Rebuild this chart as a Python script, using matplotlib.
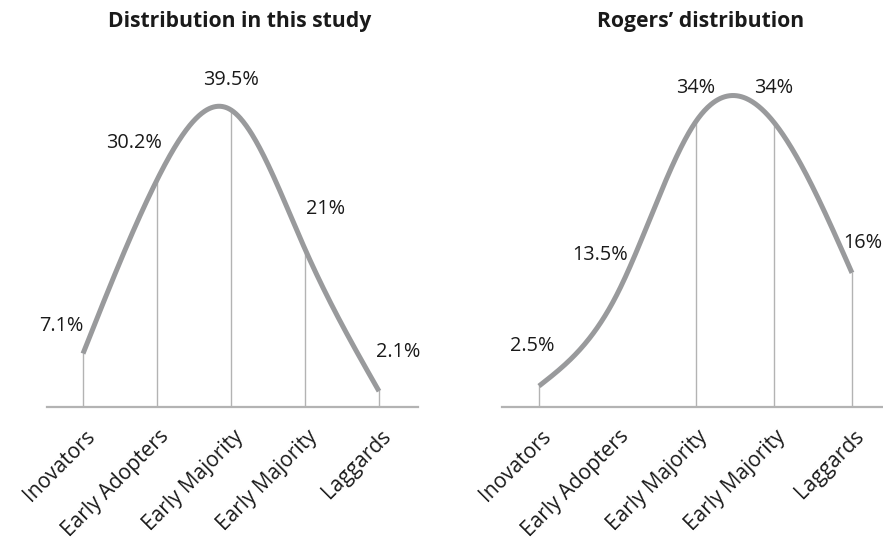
import numpy as np
import matplotlib
matplotlib.use("Agg")
import matplotlib.pyplot as plt
from matplotlib.transforms import ScaledTranslation

categories = ["Inovators", "Early Adopters", "Early Majority", "Early Majority", "Laggards"]
study_values = [7.1, 30.2, 39.5, 21, 2.1]
study_labels = ["7.1%", "30.2%", "39.5%", "21%", "2.1%"]
rogers_values = [2.5, 13.5, 34, 34, 16]
rogers_labels = ["2.5%", "13.5%", "34%", "34%", "16%"]
rogers_drops = [True, False, True, True, True]
study_drops = [True, True, True, True, True]

plt.rcParams['font.family'] = ['Open Sans', 'DejaVu Sans']

CURVE = "#999a9c"
THIN = "#b3b3b3"
TXT = "#1a1a1a"


def natural_spline(x, y, xs):
    x = np.asarray(x, float); y = np.asarray(y, float)
    n = len(x)
    h = np.diff(x)
    A = np.zeros((n, n)); b = np.zeros(n)
    A[0, 0] = 1; A[-1, -1] = 1
    for i in range(1, n - 1):
        A[i, i - 1] = h[i - 1]
        A[i, i] = 2 * (h[i - 1] + h[i])
        A[i, i + 1] = h[i]
        b[i] = 3 * ((y[i + 1] - y[i]) / h[i] - (y[i] - y[i - 1]) / h[i - 1])
    c = np.linalg.solve(A, b)
    out = np.empty_like(xs)
    for k, t in enumerate(xs):
        i = min(max(np.searchsorted(x, t) - 1, 0), n - 2)
        bi = (y[i + 1] - y[i]) / h[i] - h[i] * (2 * c[i] + c[i + 1]) / 3
        di = (c[i + 1] - c[i]) / (3 * h[i])
        dt = t - x[i]
        out[k] = y[i] + bi * dt + c[i] * dt ** 2 + di * dt ** 3
    return out


W, H = 883, 544
fig = plt.figure(figsize=(W / 100, H / 100), dpi=100)


def px_axes(x0, x1, y_top, y_base):
    return fig.add_axes([x0 / W, (H - y_base) / H, (x1 - x0) / W, (y_base - y_top) / H])


def draw(ax, values, labels, drops, xlim, ylim, offsets):
    xs = np.arange(len(categories))
    ax.set_xlim(*xlim)
    ax.set_ylim(*ylim)
    for s in ax.spines.values():
        s.set_visible(False)
    ax.axhline(0, color=THIN, lw=1.6, zorder=1, clip_on=False)
    for xi, v, d in zip(xs, values, drops):
        if d:
            ax.plot([xi, xi], [0, v], color=THIN, lw=1.0, zorder=1)
    xx = np.linspace(0, len(categories) - 1, 400)
    yy = natural_spline(xs, values, xx)
    ax.plot(xx, yy, color=CURVE, lw=3.6, solid_capstyle='butt', zorder=3)
    for xi, v, lab, off in zip(xs, values, labels, offsets):
        ax.annotate(lab, (xi, v), xytext=off, textcoords='offset pixels',
                    ha='center', va='center', fontsize=14.3, color=TXT,
                    annotation_clip=False)
    ax.set_yticks([])
    ax.set_xticks(xs)
    ax.set_xticklabels(categories, rotation=45, ha='right', va='center',
                       rotation_mode='anchor', fontsize=15, color=TXT)
    ax.tick_params(axis='x', length=0, pad=19)
    shift = ScaledTranslation(9 / 100, 0, fig.dpi_scale_trans)
    for t in ax.get_xticklabels():
        t.set_transform(t.get_transform() + shift)
    ax.patch.set_alpha(0)


ax1 = px_axes(47, 418, 60, 407)
draw(ax1, study_values, study_labels, study_drops,
     ((47 - 83) / 74, (418 - 83) / 74), (0, (407 - 60) / 7.52),
     [(-22, 28), (-23, 37), (0, 30), (21, 40), (19, 39)])

ax2 = px_axes(502, 883, 60, 407)
draw(ax2, rogers_values, rogers_labels, rogers_drops,
     ((502 - 539) / 78.25, (883 - 539) / 78.25), (0, (407 - 60) / 8.38),
     [(-7, 40), (-17, 39), (0, 34), (0, 34), (11, 30)])

fig.text(240 / W, 1 - 21 / H, "Distribution in this study", ha='center', va='center',
         fontsize=15.2, fontweight='bold', color=TXT)
fig.text(701 / W, 1 - 21 / H, "Rogers\u2019 distribution", ha='center', va='center',
         fontsize=15.2, fontweight='bold', color=TXT)

fig.savefig("out.png", dpi=100)
